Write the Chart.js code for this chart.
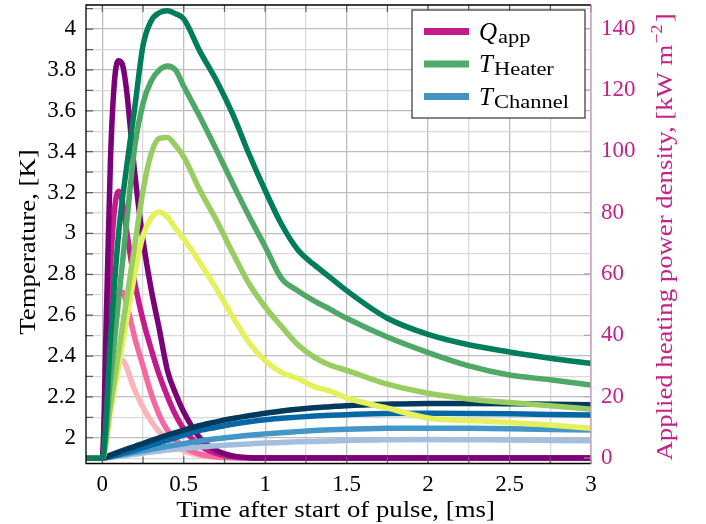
<!DOCTYPE html>
<html>
<head>
<meta charset="utf-8">
<title>Heater pulse response</title>
<script src="https://cdn.jsdelivr.net/npm/chart.js@4.4.1/dist/chart.umd.min.js"></script>
<style>
    html, body { margin: 0; padding: 0; background: #ffffff; }
    #chart { display: block; }
</style>
</head>
<body>
<canvas id="chart" width="706" height="524"></canvas>
<script>
/**
 * Heater pulse response
 * Applied heating power density (right axis) and heater / channel
 * temperatures (left axis) after the start of a heat pulse.
 */

// time grid of the applied power curves [ms]
const pulseTime = [-0.1, 0, 0.025, 0.05, 0.075, 0.1, 0.125, 0.15, 0.175, 0.2, 0.25, 0.3, 0.35, 0.4, 0.45, 0.5, 0.6, 0.7, 0.8, 0.9, 1.0, 1.5, 2.0, 2.5, 3.0];

// applied heating power density [kW m^-2], one curve per pulse amplitude
const qApp1 = [0, 0, 46, 97, 123, 129.5, 128, 119.5, 106, 92.5, 71, 55, 42, 28.5, 21, 15, 6.5, 2.5, 0.7, 0.1, 0, 0, 0, 0, 0];
const qApp2 = [0, 0, 30, 62, 81, 87, 83, 74, 65, 57, 45, 35.5, 27, 20, 14, 9.5, 4, 1.5, 0.4, 0.1, 0, 0, 0, 0, 0];
const qApp3 = [0, 0, 18, 37, 48.5, 53, 54, 50, 44.5, 39, 30, 21, 14, 9, 6, 3.6, 1.3, 0.4, 0.1, 0, 0, 0, 0, 0, 0];
const qApp4 = [0, 0, 10, 21, 28, 31.3, 31.8, 29.5, 25.5, 22, 16.5, 12, 8.5, 6, 4, 2.4, 0.9, 0.25, 0.05, 0, 0, 0, 0, 0, 0];

// time grid of the temperature curves [ms]
const tempTime = [-0.1, 0, 0.05, 0.1, 0.15, 0.2, 0.25, 0.3, 0.35, 0.4, 0.45, 0.5, 0.6, 0.7, 0.8, 0.9, 1.0, 1.1, 1.2, 1.3, 1.4, 1.5, 1.75, 2.0, 2.25, 2.5, 2.75, 3.0];

// heater temperature [K]
const heater1 = [1.9, 1.9, 2.48, 3.0, 3.33, 3.62, 3.92, 4.04, 4.08, 4.09, 4.075, 4.05, 3.89, 3.75, 3.585, 3.39, 3.21, 3.045, 2.92, 2.847, 2.784, 2.72, 2.585, 2.506, 2.455, 2.42, 2.389, 2.364];
const heater2 = [1.9, 1.9, 2.285, 2.674, 3.057, 3.43, 3.637, 3.746, 3.8, 3.82, 3.8, 3.72, 3.57, 3.41, 3.245, 3.085, 2.935, 2.78, 2.72, 2.67, 2.628, 2.585, 2.493, 2.417, 2.352, 2.307, 2.284, 2.258];
const heater3 = [1.9, 1.9, 2.16, 2.42, 2.68, 2.945, 3.21, 3.39, 3.465, 3.47, 3.43, 3.375, 3.21, 3.066, 2.905, 2.755, 2.64, 2.545, 2.455, 2.395, 2.355, 2.33, 2.262, 2.218, 2.19, 2.172, 2.157, 2.14];
const heater4 = [1.9, 1.9, 2.13, 2.35, 2.58, 2.805, 2.99, 3.075, 3.105, 3.08, 3.025, 2.973, 2.857, 2.73, 2.593, 2.467, 2.377, 2.32, 2.29, 2.25, 2.228, 2.195, 2.145, 2.097, 2.085, 2.075, 2.062, 2.046];

// channel temperature [K]
const channel1 = [1.9, 1.9, 1.915, 1.93, 1.945, 1.958, 1.972, 1.986, 2.0, 2.013, 2.025, 2.037, 2.06, 2.078, 2.094, 2.108, 2.12, 2.131, 2.14, 2.147, 2.152, 2.157, 2.164, 2.168, 2.168, 2.167, 2.164, 2.161];
const channel2 = [1.9, 1.9, 1.908, 1.918, 1.928, 1.94, 1.952, 1.964, 1.976, 1.988, 2.0, 2.013, 2.036, 2.051, 2.066, 2.078, 2.088, 2.095, 2.101, 2.106, 2.11, 2.113, 2.119, 2.12, 2.119, 2.117, 2.114, 2.111];
const channel3 = [1.9, 1.9, 1.906, 1.914, 1.921, 1.929, 1.936, 1.944, 1.951, 1.958, 1.964, 1.971, 1.984, 1.995, 2.004, 2.012, 2.019, 2.025, 2.03, 2.035, 2.039, 2.042, 2.046, 2.047, 2.046, 2.044, 2.041, 2.038];
const channel4 = [1.9, 1.9, 1.904, 1.91, 1.914, 1.92, 1.925, 1.93, 1.935, 1.94, 1.944, 1.948, 1.955, 1.961, 1.966, 1.97, 1.974, 1.977, 1.98, 1.982, 1.984, 1.987, 1.99, 1.991, 1.99, 1.989, 1.987, 1.985];

// tick positions
const timeTicks = [0, 0.25, 0.5, 0.75, 1, 1.25, 1.5, 1.75, 2, 2.25, 2.5, 2.75, 3];
const tempTicks = [1.9, 2, 2.1, 2.2, 2.3, 2.4, 2.5, 2.6, 2.7, 2.8, 2.9, 3, 3.1, 3.2, 3.3, 3.4, 3.5, 3.6, 3.7, 3.8, 3.9, 4, 4.1];
const powerTicks = [0, 20, 40, 60, 80, 100, 120, 140];

// legend entries (italic symbol + upright subscript)
const legendEntries = [
    { symbol: 'Q', sub: 'app', color: '#c51b8a' },
    { symbol: 'T', sub: 'Heater', color: '#52a868' },
    { symbol: 'T', sub: 'Channel', color: '#4393c3' }
];

const SERIF = '"Liberation Serif", "Times New Roman", serif';
const PINK = '#c4218c';
const Q_COLORS = ['#7a0177', '#c51b8a', '#f768a1', '#fbb4b9'];
const HEATER_COLORS = ['#007d5b', '#4fa865', '#98cd62', '#e4f15d'];
const CHANNEL_COLORS = ['#023a5e', '#0567a5', '#4396c8', '#a4bfdd'];

// the reference typeface runs wider than Liberation Serif
const TEXT_STRETCH = 1.115;

const isMultiple = (v, step) => Math.abs(v / step - Math.round(v / step)) < 1e-6;

/**
 * Build a line dataset from a time grid and its values
 */
function makeSeries(times, values, color, axis) {
    return {
        data: times.map((t, i) => ({ x: t, y: values[i] })),
        borderColor: color,
        borderWidth: 5.5,
        pointRadius: 0,
        fill: false,
        yAxisID: axis,
        cubicInterpolationMode: 'monotone',
        borderJoinStyle: 'round'
    };
}

/**
 * Draw text horizontally stretched (in its own direction)
 */
function wideText(ctx, text, x, y, stretch) {
    ctx.save();
    ctx.translate(x, y);
    ctx.scale(stretch, 1);
    ctx.fillText(text, 0, 0);
    ctx.restore();
}

// first dataset is drawn on top
const datasets = [
    ...[heater1, heater2, heater3, heater4].map((v, i) => makeSeries(tempTime, v, HEATER_COLORS[i], 'y')),
    ...[channel1, channel2, channel3, channel4].map((v, i) => makeSeries(tempTime, v, CHANNEL_COLORS[i], 'y')),
    ...[qApp1, qApp2, qApp3, qApp4].map((v, i) => makeSeries(pulseTime, v, Q_COLORS[i], 'y2'))
];

/**
 * Frame, inner tick marks, legend and axis titles
 */
const framePlugin = {
    id: 'frame',
    afterDatasetsDraw(chart) {
        const { ctx, chartArea: a, scales } = chart;
        ctx.save();

        // inner tick marks
        ctx.lineWidth = 1.2;
        ctx.strokeStyle = '#5c5c5c';
        ctx.beginPath();
        timeTicks.forEach(v => {
            const px = scales.x.getPixelForValue(v);
            ctx.moveTo(px, a.bottom);
            ctx.lineTo(px, a.bottom - 7);
            ctx.moveTo(px, a.top);
            ctx.lineTo(px, a.top + 7);
        });
        tempTicks.forEach(v => {
            const py = scales.y.getPixelForValue(v);
            ctx.moveTo(a.left, py);
            ctx.lineTo(a.left + 7, py);
        });
        ctx.stroke();

        ctx.strokeStyle = '#aaaaaa';
        ctx.beginPath();
        powerTicks.forEach(v => {
            const py = scales.y2.getPixelForValue(v);
            ctx.moveTo(a.right, py);
            ctx.lineTo(a.right - 7, py);
        });
        ctx.stroke();

        // axis lines
        ctx.lineWidth = 1.3;
        ctx.strokeStyle = '#000000';
        ctx.beginPath();
        ctx.moveTo(a.right, a.top);
        ctx.lineTo(a.left, a.top);
        ctx.lineTo(a.left, a.bottom);
        ctx.lineTo(a.right, a.bottom);
        ctx.stroke();
        ctx.strokeStyle = '#cf9fcb';
        ctx.beginPath();
        ctx.moveTo(a.right, a.top);
        ctx.lineTo(a.right, a.bottom);
        ctx.stroke();

        // legend box
        const box = { x: a.right - 179, y: a.top + 5, w: 173, h: 108 };
        ctx.fillStyle = '#ffffff';
        ctx.fillRect(box.x, box.y, box.w, box.h);
        ctx.lineWidth = 1.2;
        ctx.strokeStyle = '#333333';
        ctx.strokeRect(box.x, box.y, box.w, box.h);

        legendEntries.forEach((entry, i) => {
            const y = box.y + 21.5 + i * 32.5;
            ctx.lineWidth = 7;
            ctx.lineCap = 'butt';
            ctx.strokeStyle = entry.color;
            ctx.beginPath();
            ctx.moveTo(box.x + 12, y);
            ctx.lineTo(box.x + 57, y);
            ctx.stroke();

            ctx.fillStyle = '#000000';
            ctx.textBaseline = 'alphabetic';
            ctx.textAlign = 'left';
            ctx.font = `italic 25px ${SERIF}`;
            ctx.fillText(entry.symbol, box.x + 67, y + 8);
            const w = ctx.measureText(entry.symbol).width;
            ctx.font = `18px ${SERIF}`;
            wideText(ctx, entry.sub, box.x + 67 + w + 1, y + 11, 1.25);
        });
        ctx.restore();
    },
    afterDraw(chart) {
        const { ctx, chartArea: a } = chart;
        ctx.save();
        ctx.textBaseline = 'alphabetic';
        ctx.textAlign = 'center';

        // x title
        ctx.fillStyle = '#000000';
        ctx.font = `24px ${SERIF}`;
        wideText(ctx, 'Time after start of pulse, [ms]', (a.left + a.right) / 2 - 3, 517, TEXT_STRETCH);

        // left title
        ctx.save();
        ctx.translate(35, 242);
        ctx.rotate(-Math.PI / 2);
        wideText(ctx, 'Temperature, [K]', 0, 0, TEXT_STRETCH);
        ctx.restore();

        // right title with superscript
        ctx.save();
        ctx.translate(672, 237);
        ctx.rotate(-Math.PI / 2);
        ctx.scale(TEXT_STRETCH, 1);
        ctx.fillStyle = PINK;
        ctx.textAlign = 'left';
        const main = 'Applied heating power density, [kW m';
        const sup = '\u22122';
        ctx.font = `24px ${SERIF}`;
        const w1 = ctx.measureText(main).width;
        const w3 = ctx.measureText(']').width;
        ctx.font = `16px ${SERIF}`;
        const w2 = ctx.measureText(sup).width;
        const x0 = -(w1 + w2 + w3 + 3) / 2;
        ctx.font = `24px ${SERIF}`;
        ctx.fillText(main, x0, 0);
        ctx.font = `16px ${SERIF}`;
        ctx.fillText(sup, x0 + w1 + 1, -10);
        ctx.font = `24px ${SERIF}`;
        ctx.fillText(']', x0 + w1 + w2 + 3, 0);
        ctx.restore();

        ctx.restore();
    }
};

const tickFont = { family: SERIF, size: 23 };

new Chart(document.getElementById('chart'), {
    type: 'line',
    data: { datasets },
    options: {
        responsive: false,
        animation: false,
        devicePixelRatio: 1,
        layout: { padding: { top: 5, left: 0, right: 0, bottom: 0 } },
        plugins: {
            legend: { display: false },
            tooltip: { enabled: false }
        },
        scales: {
            x: {
                type: 'linear',
                min: -0.1,
                max: 3,
                afterBuildTicks: s => { s.ticks = timeTicks.map(v => ({ value: v })); },
                afterFit: s => {
                    s.height = 60.5;
                    s.paddingLeft = 0;
                    s.paddingRight = 0;
                },
                border: { display: false },
                grid: {
                    drawTicks: false,
                    lineWidth: 1.3,
                    color: c => isMultiple(c.tick.value, 0.5) ? '#bdbdbd' : '#d9d9d9'
                },
                ticks: {
                    autoSkip: false,
                    maxRotation: 0,
                    padding: 8,
                    color: '#000000',
                    font: tickFont,
                    callback: v => isMultiple(v, 0.5) ? String(+v.toFixed(2)) : ''
                }
            },
            y: {
                position: 'left',
                min: 1.874,
                max: 4.118,
                afterBuildTicks: s => { s.ticks = tempTicks.map(v => ({ value: v })); },
                afterFit: s => {
                    s.width = 86;
                    s.paddingTop = 0;
                    s.paddingBottom = 0;
                },
                border: { display: false },
                grid: {
                    drawTicks: false,
                    lineWidth: 1.3,
                    color: c => isMultiple(c.tick.value, 0.2) ? '#bdbdbd' : '#d9d9d9'
                },
                ticks: {
                    autoSkip: false,
                    padding: 10,
                    color: '#000000',
                    font: tickFont,
                    callback: v => isMultiple(v, 0.2) ? String(+v.toFixed(1)) : ''
                }
            },
            y2: {
                position: 'right',
                min: -1.8,
                max: 147.7,
                afterBuildTicks: s => { s.ticks = powerTicks.map(v => ({ value: v })); },
                afterFit: s => {
                    s.width = 115;
                    s.paddingTop = 0;
                    s.paddingBottom = 0;
                },
                border: { display: false },
                grid: { drawOnChartArea: false, drawTicks: false },
                ticks: {
                    autoSkip: false,
                    padding: 10,
                    color: PINK,
                    font: tickFont,
                    callback: v => String(v)
                }
            }
        }
    },
    plugins: [framePlugin]
});
</script>
</body>
</html>
